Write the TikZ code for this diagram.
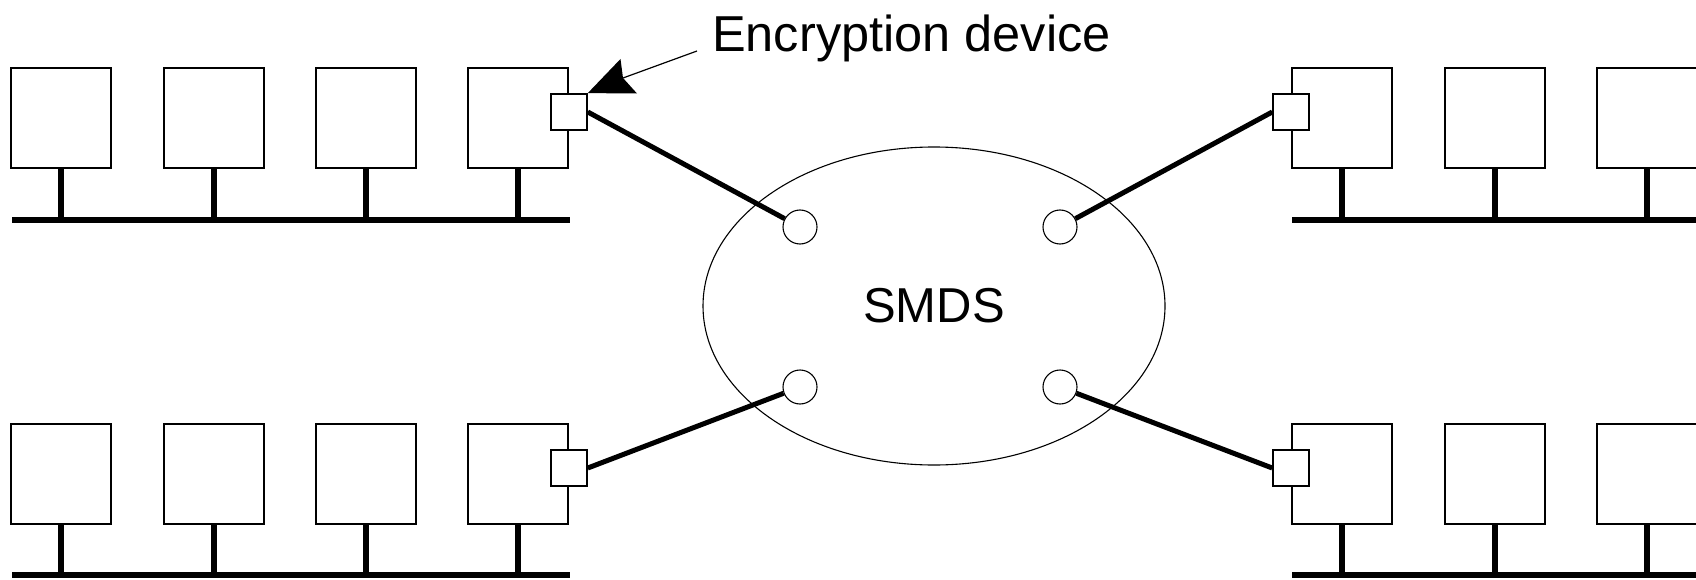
\documentclass[tikz,border=0pt]{standalone}
\usepackage{fontspec}
\setmainfont{Liberation Sans}
\usetikzlibrary{shapes.geometric}
\begin{document}
\begin{tikzpicture}[x=1pt,y=-1pt,
  pc/.style={draw, line width=1.8pt, minimum width=100pt, minimum height=100pt, inner sep=0pt},
  enc/.style={draw, fill=white, line width=1.8pt, minimum size=36pt, inner sep=0pt},
  port/.style={draw, circle, line width=1.1pt, minimum size=34pt, inner sep=0pt},
  cloudnet/.style={draw, ellipse, line width=1.1pt, minimum width=462pt, minimum height=318pt,
                   inner sep=0pt, font=\fontsize{49}{55}\selectfont},
  bus/.style={line width=6.2pt},
  stem/.style={line width=5.3pt},
  link/.style={line width=5pt},
  leader/.style={line width=1.2pt},
]
\useasboundingbox (0,0) rectangle (1696,580);

% workstations of the four LANs
\foreach \i/\x in {1/61,2/214,3/366,4/518}{
  \node[pc] (tl\i) at (\x,118) {};
  \node[pc] (bl\i) at (\x,474) {};
}
\foreach \i/\x in {1/1342,2/1495,3/1647}{
  \node[pc] (tr\i) at (\x,118) {};
  \node[pc] (br\i) at (\x,474) {};
}

% LAN buses
\coordinate (tlbusA) at (12,220);   \coordinate (tlbusB) at (570,220);
\coordinate (blbusA) at (12,575);   \coordinate (blbusB) at (570,575);
\coordinate (trbusA) at (1292,220); \coordinate (trbusB) at (1700,220);
\coordinate (brbusA) at (1292,575); \coordinate (brbusB) at (1700,575);
\draw[bus] (tlbusA) -- (tlbusB);
\draw[bus] (blbusA) -- (blbusB);
\draw[bus] (trbusA) -- (trbusB);
\draw[bus] (brbusA) -- (brbusB);

% drops from each station to its bus
\foreach \i in {1,2,3,4}{
  \draw[stem] (tl\i.south) -- (tl\i.south |- tlbusA);
  \draw[stem] (bl\i.south) -- (bl\i.south |- blbusA);
}
\foreach \i in {1,2,3}{
  \draw[stem] (tr\i.south) -- (tr\i.south |- trbusA);
  \draw[stem] (br\i.south) -- (br\i.south |- brbusA);
}

% encryption devices on the gateway stations
\node[enc] (encTL) at (tl4.east |- 0,112) {};
\node[enc] (encBL) at (bl4.east |- 0,468) {};
\node[enc] (encTR) at (tr1.west |- 0,112) {};
\node[enc] (encBR) at (br1.west |- 0,468) {};

% SMDS network and its access ports
\node[cloudnet] (smds) at (934,306) {SMDS};
\node[port] (pTL) at (800,227) {};
\node[port] (pTR) at (1060,227) {};
\node[port] (pBL) at (800,387) {};
\node[port] (pBR) at (1060,387) {};

% access lines
\draw[link] (encTL.east) -- (pTL);
\draw[link] (encTR.west) -- (pTR);
\draw[link] (encBL.east) -- (pBL);
\draw[link] (encBR.west) -- (pBR);

% callout
\node[font=\fontsize{50.5}{56}\selectfont, anchor=base west, inner sep=0pt] (lbl) at (712,52) {Encryption device};
\coordinate (lead) at (697,51);
\coordinate (notch) at (623,78);
\draw[leader] (lead) -- (notch);
\fill (encTL.north east) -- (620.5,59) -- (notch) -- (637,93.5) -- cycle;
\end{tikzpicture}
\end{document}
